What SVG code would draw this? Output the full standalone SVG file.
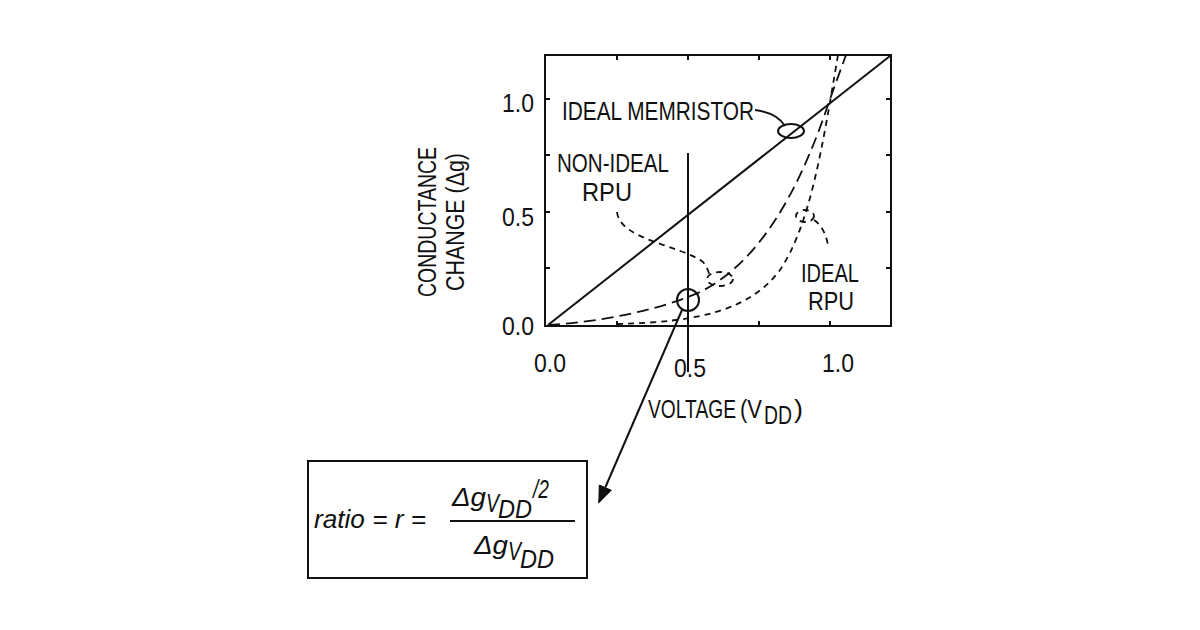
<svg xmlns="http://www.w3.org/2000/svg" width="1200" height="630" viewBox="0 0 1200 630">
<style>
text{font-family:"Liberation Sans",Arial,sans-serif;fill:#111;font-size:26px}
.s{stroke:#111;fill:none;stroke-width:2}
.ld{stroke:#111;fill:none;stroke-width:1.8;stroke-dasharray:12 6}
.sd{stroke:#111;fill:none;stroke-width:1.8;stroke-dasharray:6 5}
.i{font-style:italic}
</style>
<defs><marker id="ah" viewBox="0 0 10 10" refX="9" refY="5" markerWidth="9" markerHeight="9" orient="auto"><path d="M0,1 L10,5 L0,9 z" fill="#111"/></marker></defs>
<rect width="1200" height="630" fill="#fff"/>
<g id="plot">
<rect x="545" y="55" width="346" height="271" class="s"/>
<path class="s" stroke-width="1.2" d="M617,326v-5M688,326v-5M759,326v-5M830,326v-5M617,55v5M688,55v5M759,55v5M830,55v5M545,268h5M545,212h5M545,155h5M545,99h5M891,268h-5M891,212h-5M891,155h-5M891,99h-5"/>
<text x="518" y="112" text-anchor="middle" textLength="32" lengthAdjust="spacingAndGlyphs">1.0</text>
<text x="518" y="226" text-anchor="middle" textLength="32" lengthAdjust="spacingAndGlyphs">0.5</text>
<text x="518" y="335" text-anchor="middle" textLength="32" lengthAdjust="spacingAndGlyphs">0.0</text>
<text x="550" y="372" text-anchor="middle" textLength="32" lengthAdjust="spacingAndGlyphs">0.0</text>
<text x="690" y="377" text-anchor="middle" textLength="32" lengthAdjust="spacingAndGlyphs">0.5</text>
<text x="838" y="372" text-anchor="middle" textLength="32" lengthAdjust="spacingAndGlyphs">1.0</text>
<text x="648" y="418" textLength="88" lengthAdjust="spacingAndGlyphs">VOLTAGE</text>
<text x="740" y="418" textLength="22" lengthAdjust="spacingAndGlyphs">(V</text>
<text x="764" y="424" font-size="20" textLength="28" lengthAdjust="spacingAndGlyphs">DD</text>
<text x="794" y="418" textLength="9" lengthAdjust="spacingAndGlyphs">)</text>
<text transform="translate(436,222) rotate(-90)" text-anchor="middle" textLength="150" lengthAdjust="spacingAndGlyphs">CONDUCTANCE</text>
<text transform="translate(464,222) rotate(-90)" text-anchor="middle" textLength="138" lengthAdjust="spacingAndGlyphs">CHANGE (Δg)</text>
</g>
<g id="curves">
<path class="s" d="M548,325 L890,56"/>
<path class="s" d="M688,153 V372"/>
<path class="ld" d="M548,325 C600,322 660,310 700,292 C760,262 800,190 830,99 L846,55"/>
<path class="sd" d="M617,324 C700,322 750,310 780,270 C810,225 822,150 838,55"/>
</g>
<g id="labels">
<text x="562" y="120" textLength="192" lengthAdjust="spacingAndGlyphs">IDEAL MEMRISTOR</text>
<path class="s" stroke-width="1.5" d="M755,110 C770,112 780,118 785,126"/>
<ellipse cx="791" cy="131" rx="13" ry="7" class="s" stroke-width="1.5"/>
<text x="557" y="172" textLength="112" lengthAdjust="spacingAndGlyphs">NON-IDEAL</text>
<text x="582" y="201" textLength="50" lengthAdjust="spacingAndGlyphs">RPU</text>
<path class="sd" stroke-width="1.5" d="M617,212 C620,240 680,245 703,262 C708,268 708,272 710,275"/>
<ellipse cx="720" cy="279" rx="13" ry="7" class="sd" stroke-width="1.5"/>
<ellipse cx="805" cy="216" rx="9" ry="6" class="sd" stroke-width="1.5"/>
<path class="sd" stroke-width="1.5" d="M814,220 C822,225 826,235 828,245"/>
<text x="801" y="282" textLength="58" lengthAdjust="spacingAndGlyphs">IDEAL</text>
<text x="808" y="310" textLength="46" lengthAdjust="spacingAndGlyphs">RPU</text>
</g>
<g id="connectors">
<circle cx="688" cy="300" r="11" fill="#fff" class="s"/>
<path class="s" stroke-width="1.5" d="M682,310 L599,502" marker-end="url(#ah)"/>
</g>
<g id="formula">
<rect x="308" y="461" width="279" height="117" class="s" stroke-width="2"/>
<text x="314" y="528" class="i" textLength="112" lengthAdjust="spacingAndGlyphs">ratio = r =</text>
<text x="452" y="506" class="i" textLength="34" lengthAdjust="spacingAndGlyphs">Δg</text>
<text x="486" y="512" class="i" font-size="22" textLength="13" lengthAdjust="spacingAndGlyphs">V</text>
<text x="498" y="518" class="i" font-size="24" textLength="34" lengthAdjust="spacingAndGlyphs">DD</text>
<text x="533" y="498" class="i" font-size="20" textLength="16" lengthAdjust="spacingAndGlyphs">/2</text>
<path class="s" stroke-width="1.5" d="M450,521 H575"/>
<text x="474" y="554" class="i" textLength="34" lengthAdjust="spacingAndGlyphs">Δg</text>
<text x="508" y="560" class="i" font-size="22" textLength="13" lengthAdjust="spacingAndGlyphs">V</text>
<text x="520" y="568" class="i" font-size="24" textLength="34" lengthAdjust="spacingAndGlyphs">DD</text>
</g>
</svg>
